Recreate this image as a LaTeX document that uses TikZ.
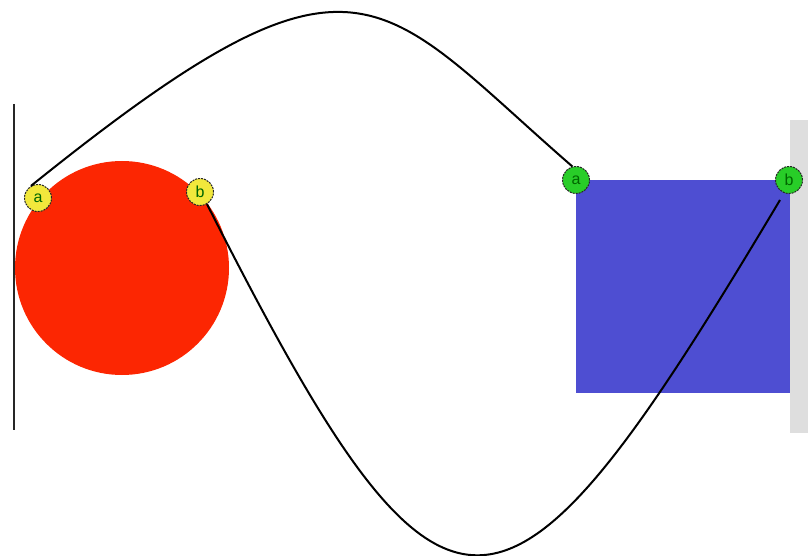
\documentclass[tikz,border=0pt]{standalone}
\usepackage{fontspec}
\setsansfont{Liberation Sans}
\definecolor{redfill}{RGB}{252,38,2}
\definecolor{bluefill}{RGB}{78,78,210}
\definecolor{yelfill}{RGB}{242,232,60}
\definecolor{grnfill}{RGB}{40,205,40}
\definecolor{barg}{RGB}{222,222,222}
\tikzset{
  handle/.style={circle, draw=black!85, dashed, dash pattern=on 2pt off 1pt, line width=1pt, minimum size=27pt, inner sep=0pt, font=\sffamily\fontsize{16}{16}\selectfont},
  yhandle/.style={handle, fill=yelfill, text=black!60!green},
  ghandle/.style={handle, fill=grnfill, text=black!60!green},
  wire/.style={line width=2pt, black}
}
\begin{document}
\begin{tikzpicture}[x=1pt,y=-1pt]
\useasboundingbox (0,0) rectangle (808,556);
% right gray bar
\fill[barg] (790,120) rectangle (808,433);
% left line
\draw[line width=2pt, black!85] (14,104) -- (14,430);
% red circle
\node[circle, fill=redfill, minimum size=214pt, inner sep=0pt] (disc) at (122,268) {};
% blue square
\node[rectangle, fill=bluefill, minimum width=214pt, minimum height=213pt, inner sep=0pt, anchor=north west] (sq) at (576,180) {};
% handles
\node[yhandle] (ya) at (38,198) {a};
\node[yhandle] (yb) at (200,192) {b};
\node[ghandle] (ga) at (576,180) {a};
\node[ghandle] (gb) at (789,180) {b};
\coordinate (gbend) at (780,200);
% curves
\draw[wire] (ya.120) .. controls (360,-79) and (375,-5) .. (ga.105);
\draw[wire] (yb.-60) .. controls (448,680) and (502,666) .. (gbend);
\end{tikzpicture}
\end{document}
